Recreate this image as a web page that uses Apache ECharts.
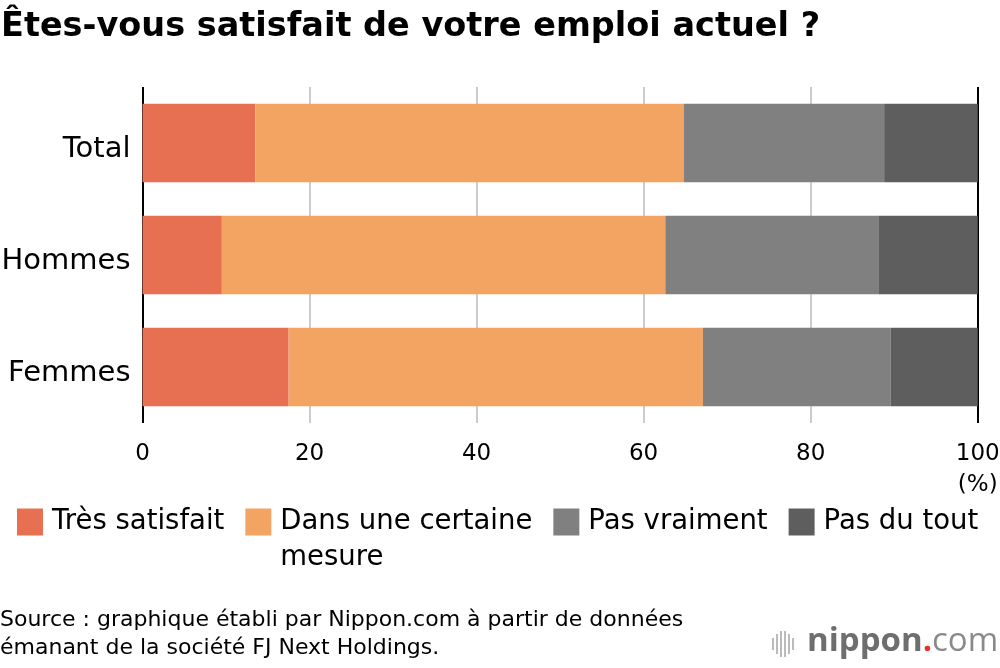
<!DOCTYPE html>
<html>
<head>
<meta charset="utf-8">
<script src="https://cdn.jsdelivr.net/npm/echarts@6/dist/echarts.min.js"></script>
<style>
html,body{margin:0;padding:0;background:#fff;}
#c{width:1000px;height:668px;}
</style>
</head>
<body>
<div id="c"></div>
<script>
var categories = ['Total', 'Hommes', 'Femmes'];
var seriesNames = ['Très satisfait', 'Dans une certaine mesure', 'Pas vraiment', 'Pas du tout'];
var tresSatisfait = [13.5, 9.5, 17.5];
var dansUneCertaineMesure = [51.3, 53.1, 49.6];
var pasVraiment = [24.0, 25.5, 22.5];
var pasDuTout = [11.2, 11.9, 10.4];
var xTicks = [0, 20, 40, 60, 80, 100];
var colors = ['#E87052', '#F3A462', '#808080', '#5E5E5E'];

var values = [tresSatisfait, dansUneCertaineMesure, pasVraiment, pasDuTout];
var FONT = '"DejaVu Sans", "Liberation Sans", Arial, sans-serif';

var chart = echarts.init(document.getElementById('c'));
var series = seriesNames.map(function (n, i) {
  return {
    name: n, type: 'bar', stack: 'all', data: values[i],
    barWidth: '70%', itemStyle: { color: colors[i] }, z: 2
  };
});

chart.setOption({
  animation: false,
  textStyle: { fontFamily: FONT },
  title: {
    text: 'Êtes-vous satisfait de votre emploi actuel ?',
    left: 1, top: 10, padding: 0,
    textStyle: { fontFamily: FONT, fontSize: 33.5, fontWeight: 'bold', color: '#000' }
  },
  grid: { left: 142.5, right: 22.3, top: 87, bottom: 245, containLabel: false, outerBoundsMode: 'none' },
  xAxis: {
    type: 'value', min: xTicks[0], max: xTicks[xTicks.length - 1], interval: 20,
    axisLine: { show: false }, axisTick: { show: false },
    axisLabel: {
      fontSize: 23, color: '#000', margin: 16, fontFamily: FONT, lineHeight: 31,
      formatter: function (v) { return v === 100 ? '100\n(%)' : String(v); }
    },
    splitLine: { show: true, lineStyle: { color: ['#000', '#cccccc', '#cccccc', '#cccccc', '#cccccc', '#000'], width: 2 } }
  },
  yAxis: {
    type: 'category', data: categories, inverse: true,
    axisLine: { show: false }, axisTick: { show: false },
    axisLabel: {
      fontSize: 29, color: '#000', margin: 12, fontFamily: FONT, padding: [12, 0, 0, 0],
      formatter: function (v) { return '{a|' + v + '}'; },
      rich: { a: { fontSize: 29, color: '#000', fontFamily: FONT } }
    }
  },
  legend: {
    top: 504, left: 17, padding: 0, itemWidth: 26, itemHeight: 27, itemGap: 21,
    icon: 'rect', selectedMode: false,
    formatter: function (n) {
      return n === 'Dans une certaine mesure' ? '{a|Dans une certaine}\n{a|mesure}' : '{a|' + n + '}';
    },
    textStyle: {
      fontSize: 27.5, color: '#000', fontFamily: FONT, lineHeight: 36, height: 36, padding: [0, 0, 0, 4],
      rich: { a: { fontSize: 27.5, color: '#000', fontFamily: FONT, lineHeight: 36 } }
    },
    data: seriesNames.map(function (n) { return { name: n }; })
  },
  graphic: [
    { type: 'text', left: 0, top: 606, style: { text: 'Source : graphique établi par Nippon.com à partir de données\némanant de la société FJ Next Holdings.', font: '22px ' + FONT, fill: '#000', lineHeight: 28 } },
    { type: 'group', left: 772, top: 631, children: [
      { type: 'rect', shape: { x: 0, y: 9, width: 2, height: 12 }, style: { fill: '#bbb' } },
      { type: 'rect', shape: { x: 4, y: 5, width: 2, height: 20 }, style: { fill: '#bbb' } },
      { type: 'rect', shape: { x: 8, y: 2, width: 2, height: 26 }, style: { fill: '#bbb' } },
      { type: 'rect', shape: { x: 12, y: 2, width: 2, height: 26 }, style: { fill: '#bbb' } },
      { type: 'rect', shape: { x: 16, y: 5, width: 2, height: 20 }, style: { fill: '#bbb' } },
      { type: 'rect', shape: { x: 20, y: 9, width: 2, height: 12 }, style: { fill: '#bbb' } }
    ]},
    { type: 'text', left: 807, top: 625, style: {
      text: '{a|nippon}{b|.}{c|com}',
      rich: {
        a: { font: 'bold 33px "Open Sans", sans-serif', fill: '#6e6e6e' },
        b: { font: 'bold 33px "Open Sans", sans-serif', fill: '#e8302a' },
        c: { font: '33px "Open Sans", sans-serif', fill: '#8a8a8a' }
      }
    } }
  ],
  series: series
});
</script>
</body>
</html>
